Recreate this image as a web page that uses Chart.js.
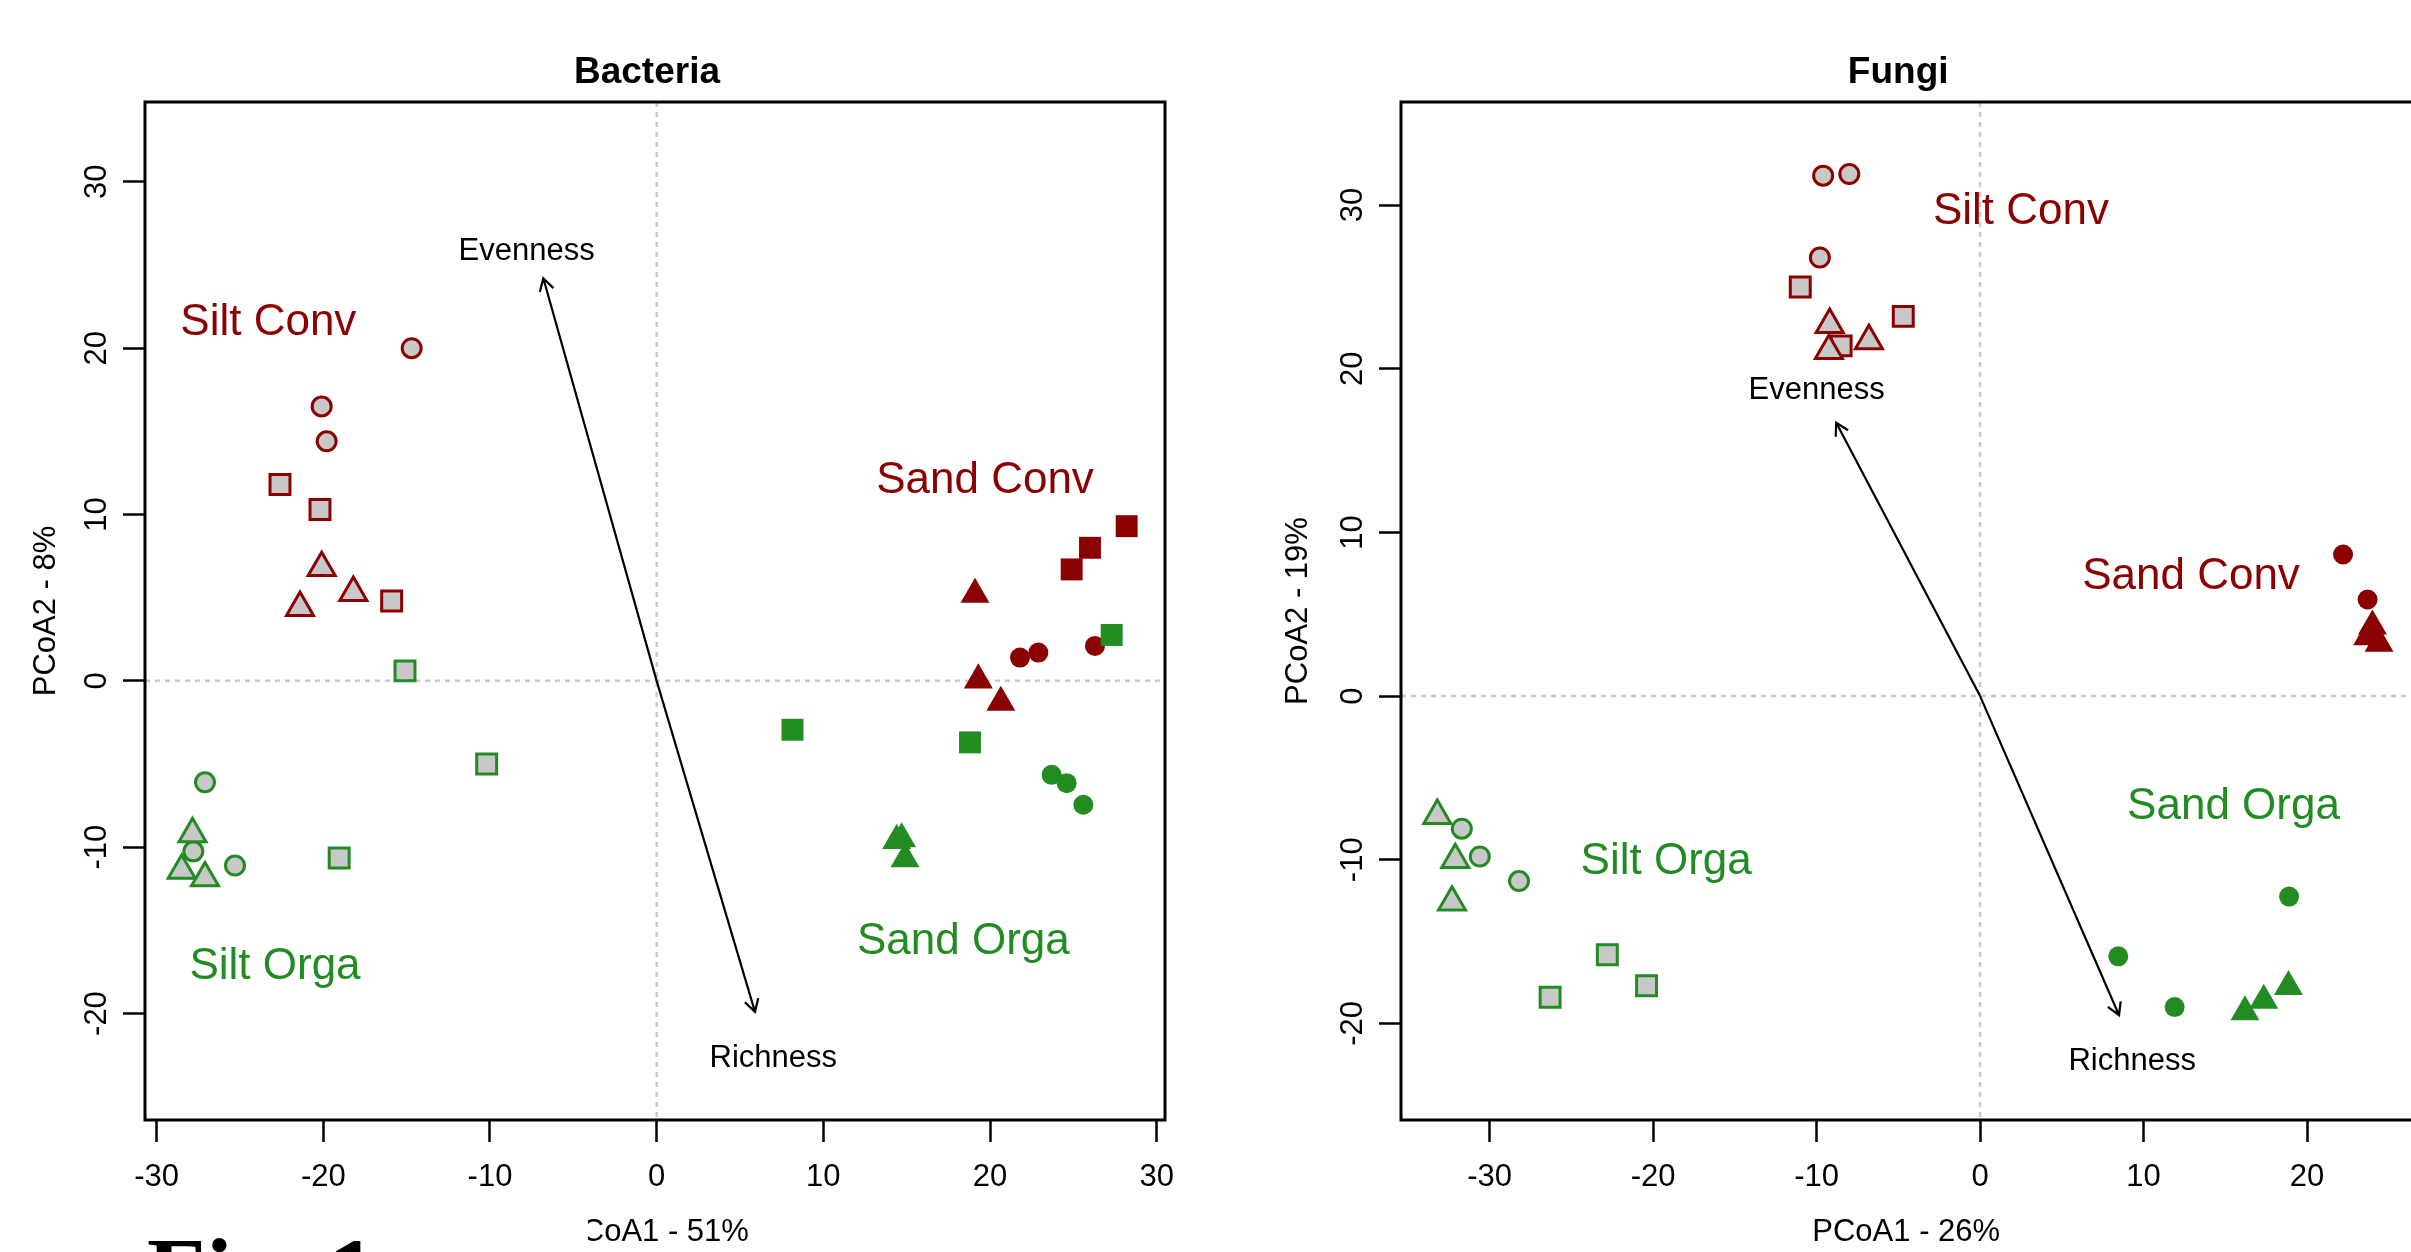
<!DOCTYPE html>
<html lang="en">
<head>
<meta charset="UTF-8">
<title>PCoA - Bacteria / Fungi</title>
<script src="https://cdn.jsdelivr.net/npm/chart.js"></script>
<style>
  html, body { margin: 0; padding: 0; background: #fff; overflow: hidden; width: 2411px; height: 1252px; }
  #bac { position: absolute; left: 0; top: 0; }
  #fun { position: absolute; left: 1200px; top: 0; }
</style>
</head>
<body>
<canvas id="bac" width="1200" height="1252"></canvas>
<canvas id="fun" width="1230" height="1252"></canvas>

<script>
// ---- data (PCoA1, PCoA2) ----
const groupNames = ['Silt Conv', 'Silt Orga', 'Sand Conv', 'Sand Orga'];
const arrowNames = ['Evenness', 'Richness'];

// Bacteria
const bacTicksX = [-30, -20, -10, 0, 10, 20, 30];
const bacTicksY = [-20, -10, 0, 10, 20, 30];
const bacSiltConvCircles = [[-14.7, 20.0], [-20.1, 16.5], [-19.8, 14.4]];
const bacSiltConvSquares = [[-22.6, 11.8], [-20.2, 10.3], [-15.9, 4.8]];
const bacSiltConvTriangles = [[-20.1, 6.8], [-18.2, 5.3], [-21.4, 4.4]];
const bacSiltOrgaCircles = [[-27.1, -6.1], [-27.8, -10.25], [-25.3, -11.1]];
const bacSiltOrgaSquares = [[-15.1, 0.6], [-10.2, -5.0], [-19.05, -10.65]];
const bacSiltOrgaTriangles = [[-27.85, -9.2], [-28.5, -11.4], [-27.1, -11.85]];
const bacSandConvCircles = [[21.8, 1.4], [22.9, 1.7], [26.3, 2.1]];
const bacSandConvSquares = [[28.2, 9.3], [26.0, 8.0], [24.9, 6.7]];
const bacSandConvTriangles = [[19.1, 5.2], [19.3, 0.05], [20.65, -1.3]];
const bacSandOrgaCircles = [[23.7, -5.65], [24.6, -6.15], [25.6, -7.45]];
const bacSandOrgaSquares = [[27.3, 2.76], [8.15, -2.94], [18.8, -3.7]];
const bacSandOrgaTriangles = [[14.4, -9.6], [14.7, -9.5], [14.9, -10.7]];
const bacArrowTips = [[-6.8, 24.2], [5.9, -19.9]];
const bacArrowLabelAt = [[-7.8, 25.8], [7.0, -22.7]];
const bacGroupLabelAt = [[-23.3, 21.5], [-22.9, -17.2], [19.7, 12.0], [18.4, -15.7]];

// Fungi
const funTicksX = [-30, -20, -10, 0, 10, 20];
const funTicksY = [-20, -10, 0, 10, 20, 30];
const funSiltConvCircles = [[-9.6, 31.8], [-8.0, 31.9], [-9.8, 26.8]];
const funSiltConvSquares = [[-11.0, 25.0], [-4.7, 23.2], [-8.5, 21.4]];
const funSiltConvTriangles = [[-9.2, 22.7], [-9.25, 21.1], [-6.8, 21.7]];
const funSiltOrgaCircles = [[-31.7, -8.1], [-30.6, -9.8], [-28.2, -11.3]];
const funSiltOrgaSquares = [[-22.8, -15.8], [-20.4, -17.7], [-26.3, -18.4]];
const funSiltOrgaTriangles = [[-33.2, -7.3], [-32.1, -10.0], [-32.3, -12.6]];
const funSandConvCircles = [[22.2, 8.65], [23.7, 5.9]];
const funSandConvSquares = [];
const funSandConvTriangles = [[24.0, 4.27], [23.7, 3.62], [24.4, 3.22]];
const funSandOrgaCircles = [[18.9, -12.25], [8.45, -15.9], [11.9, -19.0]];
const funSandOrgaSquares = [];
const funSandOrgaTriangles = [[16.2, -19.3], [17.35, -18.6], [18.86, -17.75]];
const funArrowTips = [[-8.8, 16.7], [8.5, -19.5]];
const funArrowLabelAt = [[-10.0, 18.7], [9.3, -22.3]];
const funGroupLabelAt = [[2.5, 29.6], [-19.2, -10.1], [12.9, 7.3], [15.5, -6.75]];

const DARKRED = '#8b0000', GREEN = '#228b22', GREY = '#c8c8c8';
const groupColors = [DARKRED, GREEN, DARKRED, GREEN];
const FONT = '"Liberation Sans", Arial, Helvetica, sans-serif';

function pts(arr) {
  return arr.map(p => ({x: p[0], y: p[1]}));
}

// one dataset per shape; silt groups are grey with coloured edge, sand groups solid
function groupSets(circles, squares, triangles, col, filled) {
  const s = filled
    ? {bg: col, bw: 0, rc: 10, rs: 15.5, rt: 16.7}
    : {bg: GREY, bw: 3, rc: 9.5, rs: 14.1, rt: 15.6};
  return [['circle', circles, s.rc], ['rect', squares, s.rs], ['triangle', triangles, s.rt]]
    .filter(d => d[1].length)
    .map(([style, arr, r]) => ({
      data: pts(arr),
      pointStyle: style,
      pointRadius: r,
      pointBackgroundColor: s.bg,
      pointBorderColor: col,
      pointBorderWidth: s.bw
    }));
}

function withOrder(sets) {
  // first in list = drawn first (underneath)
  return sets.map((d, i) => Object.assign(d, {order: sets.length - i}));
}

function decor(cfg) {
  return {
    id: 'decor',
    beforeDatasetsDraw(chart) {
      const {ctx, chartArea: a, scales: {x, y}} = chart;
      const x0 = x.getPixelForValue(0), y0 = y.getPixelForValue(0);
      ctx.save();
      ctx.strokeStyle = '#c4ccc4';
      ctx.lineWidth = 2.5;
      ctx.setLineDash([5, 5]);
      ctx.beginPath();
      ctx.moveTo(a.left, y0); ctx.lineTo(a.right, y0);
      ctx.moveTo(x0, a.top); ctx.lineTo(x0, a.bottom);
      ctx.stroke();
      ctx.restore();
    },
    afterDatasetsDraw(chart) {
      const {ctx, scales: {x, y}} = chart;
      const ox = x.getPixelForValue(0), oy = y.getPixelForValue(0);
      ctx.save();
      ctx.strokeStyle = '#000';
      ctx.lineWidth = 2.2;
      cfg.arrowTips.forEach(t => {
        const tx = x.getPixelForValue(t[0]), ty = y.getPixelForValue(t[1]);
        const ang = Math.atan2(ty - oy, tx - ox), h = 14;
        ctx.beginPath();
        ctx.moveTo(ox, oy); ctx.lineTo(tx, ty);
        ctx.moveTo(tx - h * Math.cos(ang - Math.PI / 6), ty - h * Math.sin(ang - Math.PI / 6));
        ctx.lineTo(tx, ty);
        ctx.lineTo(tx - h * Math.cos(ang + Math.PI / 6), ty - h * Math.sin(ang + Math.PI / 6));
        ctx.stroke();
      });
      ctx.textAlign = 'center';
      ctx.textBaseline = 'middle';
      ctx.fillStyle = '#000';
      ctx.font = '31px ' + FONT;
      cfg.arrowLabelAt.forEach((p, i) => {
        ctx.fillText(arrowNames[i], x.getPixelForValue(p[0]), y.getPixelForValue(p[1]));
      });
      ctx.font = '44px ' + FONT;
      cfg.groupLabelAt.forEach((p, i) => {
        ctx.fillStyle = groupColors[i];
        ctx.fillText(groupNames[i], x.getPixelForValue(p[0]), y.getPixelForValue(p[1]));
      });
      ctx.restore();
    },
    afterDraw(chart) {
      const {ctx, chartArea: a} = chart;
      ctx.save();
      ctx.strokeStyle = '#000';
      ctx.lineWidth = 3;
      ctx.beginPath();
      if (cfg.openRight) {
        // the figure is cropped on the right: no right edge visible
        ctx.moveTo(a.right + 20, a.top); ctx.lineTo(a.left, a.top);
        ctx.lineTo(a.left, a.bottom); ctx.lineTo(a.right + 20, a.bottom);
      } else {
        ctx.rect(a.left, a.top, a.right - a.left, a.bottom - a.top);
      }
      ctx.stroke();
      ctx.fillStyle = '#000';
      ctx.textAlign = 'center';
      ctx.textBaseline = 'alphabetic';
      ctx.font = 'bold 37px ' + FONT;
      ctx.fillText(cfg.title, (a.left + a.right) / 2 - 8, 83);
      if (cfg.figLabel) {
        ctx.fillStyle = '#fff';
        ctx.fillRect(130, 1205, 458, 47);
        ctx.fillStyle = '#000';
        ctx.textAlign = 'left';
        ctx.font = 'bold 96px "Liberation Serif", "Times New Roman", serif';
        ctx.fillText(cfg.figLabel, 147, 1304);
      }
      ctx.restore();
    }
  };
}

function makeChart(id, cfg) {
  const tickFont = {size: 31, family: FONT};
  return new Chart(document.getElementById(id), {
    type: 'scatter',
    data: {datasets: cfg.datasets},
    options: {
      responsive: false,
      animation: false,
      devicePixelRatio: 1,
      events: [],
      layout: {padding: {top: 102, right: cfg.padRight, bottom: 0, left: 0}},
      plugins: {legend: {display: false}, tooltip: {enabled: false}},
      scales: {
        x: {
          type: 'linear',
          min: cfg.xMin, max: cfg.xMax,
          afterBuildTicks: s => { s.ticks = cfg.ticksX.map(v => ({value: v})); },
          afterFit: s => { s.height = 132; },
          grid: {drawOnChartArea: false, tickLength: 22, tickWidth: 2.5, tickColor: '#000'},
          border: {display: false},
          ticks: {color: '#000', font: tickFont, padding: 17, minRotation: 0, maxRotation: 0, callback: v => String(v)},
          title: {display: true, text: cfg.xTitle, color: '#000', font: tickFont, padding: {top: 0, bottom: 1.4}}
        },
        y: {
          type: 'linear',
          min: cfg.yMin, max: cfg.yMax,
          afterBuildTicks: s => { s.ticks = cfg.ticksY.map(v => ({value: v})); },
          afterFit: s => { s.width = cfg.yWidth; },
          grid: {drawOnChartArea: false, tickLength: 22, tickWidth: 2.5, tickColor: '#000'},
          border: {display: false},
          ticks: {color: '#000', font: tickFont, padding: 3, minRotation: 90, maxRotation: 90, crossAlign: 'center', callback: v => String(v)},
          title: {display: true, text: cfg.yTitle, color: '#000', font: tickFont, padding: {top: cfg.yTitlePad, bottom: 0}}
        }
      }
    },
    plugins: [decor(cfg)]
  });
}

makeChart('bac', {
  title: 'Bacteria',
  xTitle: 'PCoA1 - 51%',
  yTitle: 'PCoA2 - 8%',
  figLabel: 'Fig. 1',
  xMin: -30.7, xMax: 30.5, yMin: -26.4, yMax: 34.8,
  ticksX: bacTicksX, ticksY: bacTicksY,
  yWidth: 145, padRight: 35, yTitlePad: 27.4,
  arrowTips: bacArrowTips, arrowLabelAt: bacArrowLabelAt, groupLabelAt: bacGroupLabelAt,
  datasets: withOrder([].concat(
    groupSets(bacSiltConvCircles, bacSiltConvSquares, bacSiltConvTriangles, DARKRED, false),
    groupSets(bacSiltOrgaCircles, bacSiltOrgaSquares, bacSiltOrgaTriangles, GREEN, false),
    groupSets(bacSandConvCircles, bacSandConvSquares, bacSandConvTriangles, DARKRED, true),
    groupSets(bacSandOrgaCircles, bacSandOrgaSquares, bacSandOrgaTriangles, GREEN, true)
  ))
});

makeChart('fun', {
  title: 'Fungi',
  xTitle: 'PCoA1 - 26%',
  yTitle: 'PCoA2 - 19%',
  openRight: true,
  xMin: -35.42, xMax: 26.38, yMin: -25.9, yMax: 36.3,
  ticksX: funTicksX, ticksY: funTicksY,
  yWidth: 201, padRight: 16, yTitlePad: 80,
  arrowTips: funArrowTips, arrowLabelAt: funArrowLabelAt, groupLabelAt: funGroupLabelAt,
  datasets: withOrder([].concat(
    groupSets(funSiltConvCircles, funSiltConvSquares, funSiltConvTriangles, DARKRED, false),
    groupSets(funSiltOrgaCircles, funSiltOrgaSquares, funSiltOrgaTriangles, GREEN, false),
    groupSets(funSandConvCircles, funSandConvSquares, funSandConvTriangles, DARKRED, true),
    groupSets(funSandOrgaCircles, funSandOrgaSquares, funSandOrgaTriangles, GREEN, true)
  ))
});
</script>
</body>
</html>
